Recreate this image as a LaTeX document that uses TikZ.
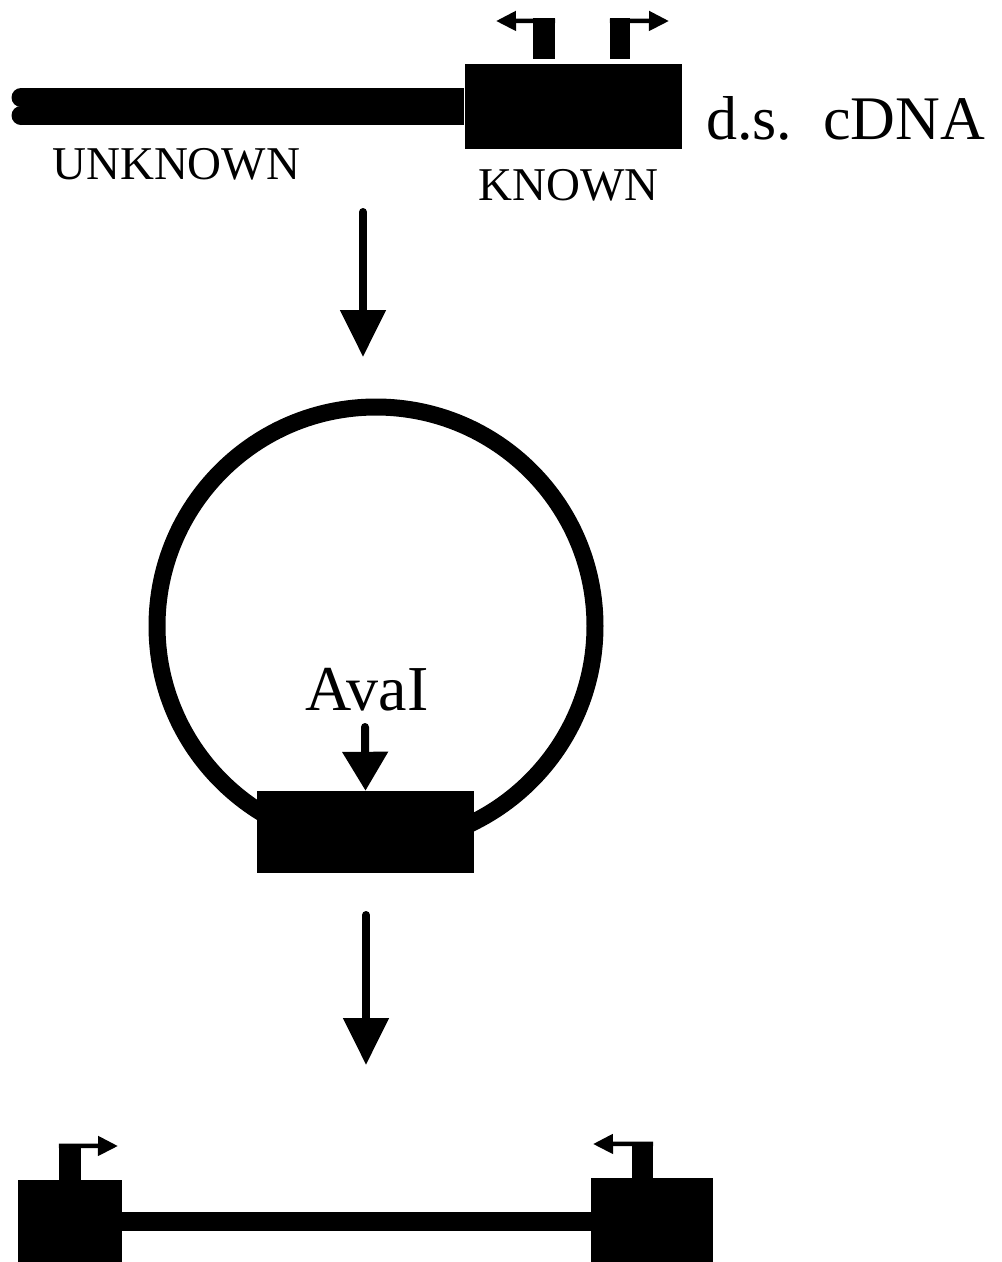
\documentclass[tikz,border=0pt]{standalone}
\usepackage{fontspec}
\setmainfont{Liberation Serif}
\usetikzlibrary{arrows.meta}
\begin{document}
\begin{tikzpicture}[x=1pt,y=-1pt,
  blk/.style={fill=black, draw=none, inner sep=0pt, rectangle},
  lblsmall/.style={inner sep=0pt, anchor=base west, font=\fontsize{47}{56}\selectfont},
  lblbig/.style={inner sep=0pt, anchor=base west, font=\fontsize{62}{72}\selectfont},
  lblava/.style={inner sep=0pt, anchor=base west, font=\fontsize{64}{72}\selectfont},
  flow/.style={line width=8pt, line cap=round, -{Triangle[width=44pt,length=47pt]}},
  cutarrow/.style={line width=8pt, line cap=round, -{Triangle[width=44pt,length=39pt]}},
  primer/.style={line width=4.5pt, -{Triangle[width=19pt,length=20pt]}}]
\useasboundingbox (0,0) rectangle (1002,1262);
% top d.s. cDNA
\node[blk, minimum width=217pt, minimum height=85pt] (known) at (573,106.5) {};
\coordinate (lend) at (21,106.5);
\fill (lend) ++(0,-9) circle (9.5pt);
\fill (lend) ++(0,9) circle (9.5pt);
\draw[line width=37pt] (lend) -- (known.west);
\node[blk, minimum width=22pt, minimum height=41pt] (p1) at (544,38.5) {};
\node[blk, minimum width=20pt, minimum height=41pt] (p2) at (620,38.5) {};
\coordinate (p1t) at (496,21);
\coordinate (p2t) at (669,21);
\draw[primer] ([yshift=-3pt]p1.north east) -- (p1t);
\draw[primer] ([yshift=-3pt]p2.north west) -- (p2t);
\node[lblsmall] (unk) at (52,179) {UNKNOWN};
\node[lblsmall] (kn) at (478,200) {KNOWN};
\node[lblbig] (ds) at (706,139) {d.s.\ \ cDNA};
% arrow 1
\coordinate (a1s) at (363,212);
\coordinate (a1e) at (363,357);
\draw[flow] (a1s) -- (a1e);
% circle
\coordinate (cc) at (376,626);
\draw[line width=17pt] (cc) circle (219pt);
\node[blk, minimum width=217pt, minimum height=82pt] (cut) at (365.5,832) {};
\node[lblava] (ava) at (305,710) {AvaI};
\coordinate (avs) at (365,727);
\draw[cutarrow] (avs) -- (cut.north);
% arrow 2
\coordinate (a2s) at (366,915);
\coordinate (a2e) at (366,1065);
\draw[flow] (a2s) -- (a2e);
% bottom
\node[blk, minimum width=104pt, minimum height=82pt] (b1) at (70,1221) {};
\node[blk, minimum width=122pt, minimum height=84pt] (b2) at (652,1220) {};
\draw[line width=19pt] (b1.east) -- (b2.west |- b1.east);
\node[blk, minimum width=22pt, minimum height=35pt] (q1) at (70,1162.5) {};
\node[blk, minimum width=21pt, minimum height=35pt] (q2) at (642.5,1160.5) {};
\coordinate (q1t) at (118,1146);
\coordinate (q2t) at (593,1144);
\draw[primer] ([yshift=-1pt]q1.north west) -- (q1t);
\draw[primer] ([yshift=-1pt]q2.north east) -- (q2t);
\end{tikzpicture}
\end{document}
